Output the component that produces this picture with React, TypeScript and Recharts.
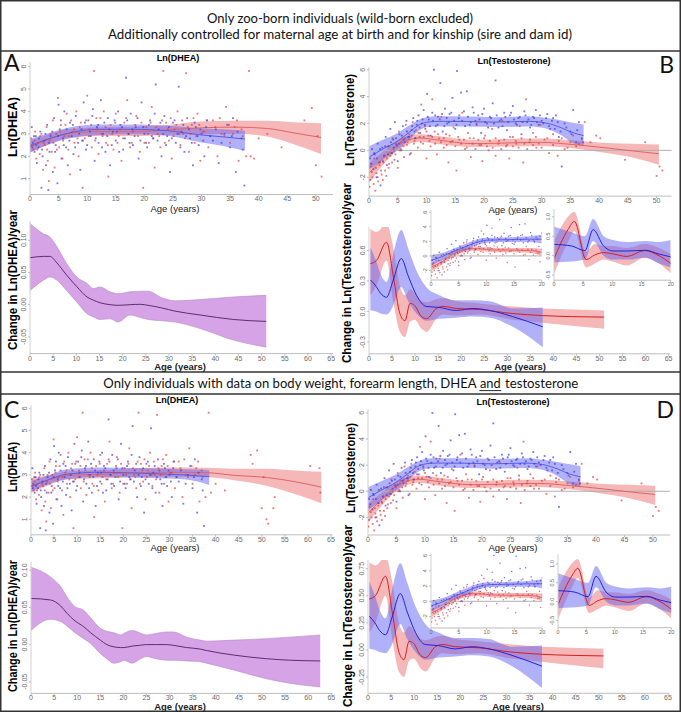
import React from 'react'
import { Area, ComposedChart, Line, ReferenceLine, Scatter, XAxis, YAxis } from 'recharts'

type Pt = [number, number]
// age, lower, fitted, upper
type BandPt = [number, number, number, number]

const AGE_TICKS_50 = [0, 5, 10, 15, 20, 25, 30, 35, 40, 45, 50]
const AGE_TICKS_65 = [0, 5, 10, 15, 20, 25, 30, 35, 40, 45, 50, 55, 60, 65]
const AGE_TICKS_20 = [0, 5, 10, 15, 20]
const DHEA_TICKS = [1, 2, 3, 4, 5, 6]
const TESTO_TICKS = [-2, 0, 2, 4, 6]
const SLOPE_DHEA_TICKS = [-0.05, 0, 0.05, 0.1]
const SLOPE_TESTO_B_TICKS = [-0.3, 0, 0.3, 0.6]
const SLOPE_TESTO_D_TICKS = [-0.25, 0, 0.25, 0.5, 0.75]
const INSET_SLOPE_TICKS = [-0.5, 0, 0.5, 1]

// raw measurements (age, ln value)
const dheaMales: Pt[] = [
  [0.3, 3.3], [0.5, 2.6], [0.8, 2.2], [1, 2.9], [1.2, 1.7], [1.5, 2.4], [1.8, 3.1], [2, 0.6], [2.2, 2.0], [2.5, 2.7],
  [2.8, 1.6], [3, 3.4], [3.2, 0.5], [3.4, 2.2], [3.6, 2.9], [4, 1.3], [4.2, 3.7], [4.5, 2.5], [4.8, 0.8], [5, 4.3],
  [5.2, 3.2], [5.5, 1.9], [5.8, 2.8], [6, 4.0], [6.3, 2.4], [6.6, 1.6], [7, 3.5], [7.3, 2.9], [7.6, 2.1], [8, 3.8],
  [8.4, 2.6], [8.8, 1.4], [9, 3.2], [9.4, 4.4], [9.8, 2.3], [10.2, 3.6], [10.6, 2.9], [11, 4.1], [11.3, 1.8], [11.7, 3.3],
  [12, 2.6], [12.4, 4.5], [12.8, 3.0], [13.2, 2.2], [13.6, 3.7], [14, 1.6], [14.5, 3.1], [15, 2.7], [15.4, 4.0], [15.8, 3.4],
  [16.3, 2.3], [16.8, 5.5], [17.2, 3.0], [17.6, 3.9], [18, 2.5], [18.5, 3.3], [19, 1.9], [19.5, 4.4], [20, 3.0], [20.5, 2.4],
  [21, 3.6], [21.5, 2.8], [22, 5.2], [22.5, 3.2], [23, 2.0], [23.5, 3.8], [24, 2.9], [24.5, 1.3], [25, 3.5], [25.5, 2.6],
  [26, 5.1], [26.5, 3.1], [27, 2.2], [27.5, 3.7], [28, 2.8], [28.5, 1.6], [29, 3.3], [29.5, 2.5], [30, 3.0], [30.5, 2.0],
  [31, 3.6], [32, 2.7], [33, 1.7], [34, 3.0], [35, 2.4], [35.5, 3.7], [36, 1.3], [37, 2.8], [37.5, 0.7],
]
const dheaMalesCore: Pt[] = [
  [0.4, 2.4], [0.7, 2.9], [1.1, 2.5], [1.6, 2.8], [2.1, 2.3], [2.7, 3.0], [3.3, 2.6], [3.9, 3.1], [4.4, 2.2], [4.9, 2.9],
  [5.4, 3.6], [5.9, 2.5], [6.4, 3.2], [6.9, 2.7], [7.5, 3.4], [7.9, 2.4], [8.6, 3.0], [9.1, 2.7], [9.6, 3.5], [10, 2.5],
  [10.5, 3.1], [10.9, 3.8], [11.5, 2.8], [11.9, 3.4], [12.6, 2.4], [13, 3.5], [13.5, 2.9], [13.9, 3.2], [14.3, 2.5], [14.8, 3.6],
  [15.2, 3.1], [15.6, 2.2], [16.1, 3.3], [16.6, 2.8], [17, 3.6], [17.4, 2.6], [17.9, 3.2], [18.3, 2.9], [18.8, 3.7], [19.3, 2.7],
  [19.8, 3.3], [20.3, 2.6], [20.8, 3.4], [21.3, 2.9], [21.8, 3.9], [22.3, 2.7], [22.8, 3.5], [23.3, 3.0], [23.8, 2.5], [24.3, 3.3],
  [24.8, 2.8], [25.3, 3.6], [25.8, 3.0], [26.3, 2.4], [26.8, 3.4], [27.3, 2.9], [27.8, 3.2], [28.3, 2.6], [28.8, 3.5], [29.3, 2.9],
  [29.8, 3.2], [30.3, 2.7], [30.8, 3.3], [31.5, 2.9], [32.5, 3.2], [33.5, 2.6], [34.5, 3.4], [35.3, 2.9], [36.3, 3.1], [37.2, 2.3],
]
const dheaFemales: Pt[] = [
  [0.2, 2.8], [0.6, 2.3], [0.9, 3.1], [1.1, 1.9], [1.4, 2.6], [1.7, 2.1], [2, 3.0], [2.3, 1.4], [2.6, 2.5], [2.9, 3.3],
  [3.1, 1.8], [3.3, 0.9], [3.5, 2.7], [3.8, 2.2], [4, 3.6], [4.3, 1.5], [4.6, 3.0], [4.9, 4.6], [5.1, 2.4], [5.4, 3.4],
  [5.7, 1.9], [6, 2.9], [6.4, 3.9], [6.7, 2.3], [7, 1.2], [7.4, 3.1], [7.8, 2.6], [8.1, 4.0], [8.5, 2.0], [8.9, 3.5],
  [9.2, 0.6], [9.6, 2.8], [10, 4.7], [10.4, 3.2], [10.8, 2.4], [11.2, 5.8], [11.6, 3.7], [12, 2.1], [12.5, 3.0], [12.9, 4.0],
  [13.3, 2.6], [13.7, 1.1], [14.1, 3.4], [14.6, 2.3], [15, 3.9], [15.5, 2.9], [16, 1.8], [16.5, 3.5], [17, 4.5], [17.5, 2.4],
  [18, 3.1], [18.6, 3.8], [19.2, 2.2], [19.8, 0.6], [20.3, 3.3], [20.8, 2.6], [21.3, 4.2], [21.8, 1.5], [22.3, 3.0], [22.8, 2.4],
  [23.3, 5.8], [23.8, 3.5], [24.3, 2.7], [24.8, 1.9], [25.3, 3.2], [25.8, 4.0], [26.3, 2.5], [26.8, 3.0], [27.3, 5.7], [27.8, 2.2],
  [28.3, 3.4], [28.8, 2.6], [29.3, 3.9], [29.8, 1.8], [30.5, 3.1], [31.2, 2.4], [32, 3.6], [32.8, 2.0], [33.5, 3.0], [34.3, 4.2],
  [35, 2.6], [35.8, 3.3], [36.5, 1.8], [37.2, 2.9], [37.8, 2.0],
]
const dheaFemalesCore: Pt[] = [
  [0.3, 2.5], [0.8, 2.7], [1.3, 2.3], [1.8, 2.9], [2.4, 2.6], [3, 2.3], [3.6, 3.0], [4.1, 2.6], [4.7, 2.3], [5.3, 3.1],
  [5.8, 2.7], [6.2, 3.4], [6.8, 2.9], [7.2, 3.6], [7.7, 3.2], [8.3, 2.8], [8.7, 3.3], [9.3, 2.7], [9.8, 3.6], [10.3, 2.9],
  [10.7, 3.4], [11.4, 2.7], [11.8, 3.2], [12.3, 3.7], [12.7, 2.9], [13.2, 3.3], [13.6, 2.5], [14.4, 3.0], [14.9, 3.5], [15.3, 2.6],
  [15.8, 3.2], [16.3, 2.8], [16.8, 3.7], [17.3, 3.0], [17.8, 2.6], [18.4, 3.4], [18.9, 2.9], [19.5, 3.5], [20, 2.6], [20.6, 3.0],
  [21.1, 3.5], [21.6, 2.8], [22.1, 3.3], [22.6, 2.9], [23.1, 3.6], [23.6, 2.6], [24.1, 3.2], [24.6, 3.7], [25.1, 2.9], [25.6, 3.4],
  [26.1, 3.0], [26.6, 3.6], [27.1, 2.8], [27.6, 3.3], [28.1, 3.0], [28.6, 3.7], [29.1, 2.9], [29.6, 3.4], [30.2, 3.1], [30.9, 3.6],
  [31.6, 2.9], [32.4, 3.3], [33.2, 3.7], [34, 2.9], [34.8, 3.4], [35.5, 3.0], [36.2, 3.6], [37, 3.2],
]
const dheaFemalesOldA: Pt[] = [
  [38.3, 5.8], [38.6, 2.0], [39.2, 1.9], [40, 2.8], [41.5, 3.0], [44, 2.4], [48, 3.6], [49.3, 4.15], [50, 1.6], [50.3, 2.9], [51, 1.1],
]
const dheaFemalesOldC: Pt[] = [
  [38.5, 5.8], [39, 2.2], [40, 2.6], [42, 2.3], [47.6, 3.9], [48, 3.5], [49, 4.1], [50, 1.5], [50.4, 2.9], [51, 1.0],
  [51.4, 0.8], [52.5, 1.5], [52.8, 2.0], [60.5, 3.4], [62.5, 3.3], [62.7, 2.2],
]
const testoMales: Pt[] = [
  [0.2, -0.6], [0.5, 0.1], [0.8, -1.4], [1, -0.3], [1.3, -2.0], [1.5, 0.5], [1.8, -0.9], [2, -2.6], [2.3, 0.2], [2.6, -0.4],
  [2.9, 1.0], [3.1, -1.1], [3.4, 0.3], [3.7, 1.6], [4, -0.2], [4.2, 0.8], [4.5, 2.1], [4.8, 0.4], [5, -0.8], [5.3, 1.2],
  [5.6, 0.0], [5.9, 1.8], [6.2, 0.6], [6.5, 2.2], [6.8, 1.0], [7.1, -0.3], [7.4, 1.5], [7.7, 2.4], [8, 0.9], [8.3, 1.9],
  [8.6, 2.6], [8.9, 1.3], [9.2, 2.0], [9.5, 3.0], [9.8, 1.6], [10.1, 4.2], [10.4, 2.3], [10.7, 1.1], [11, 2.8], [11.3, 6.0],
  [11.6, 1.8], [12, 2.5], [12.4, 5.0], [12.8, 1.4], [13.2, 3.1], [13.6, 2.0], [14, 2.7], [14.5, 3.9], [15, 1.6], [15.3, 5.9],
  [15.6, 2.4], [16, 4.3], [16.5, 2.9], [17, 4.4], [17.5, 1.9], [18, 3.2], [18.5, 2.2], [19, 2.6], [19.5, 1.3], [20, 3.1],
  [20.5, 2.0], [21, 2.5], [21.5, 3.5], [22, 5.2], [22.5, 1.7], [23, 2.3], [23.5, 2.8], [24, 1.5], [24.5, 2.6], [25, 3.3],
  [25.5, 2.0], [26, 2.4], [26.5, 1.2], [27, 2.9], [27.5, 2.1], [28, 1.7], [28.5, 2.5], [29, 3.0], [29.5, 1.9], [30, 2.2],
  [31, 2.7], [31.5, 1.6], [32, 2.4], [32.5, 2.6], [33, 1.0], [33.5, -1.2], [34, 2.0], [35, 1.4], [35.5, 3.0], [36, 0.6],
  [36.5, 2.1], [37, 0.9],
]
const testoMalesCore: Pt[] = [
  [0.4, -1.0], [0.9, -0.2], [1.4, -0.6], [1.9, 0.1], [2.4, -0.8], [2.8, 0.3], [3.3, -0.3], [3.8, 0.6], [4.3, 0.2], [4.7, 0.9],
  [5.2, 0.5], [5.7, 1.1], [6.1, 0.8], [6.6, 1.4], [7, 1.0], [7.5, 1.8], [7.9, 1.4], [8.4, 2.2], [8.8, 1.7], [9.3, 2.3],
  [9.7, 1.9], [10.2, 2.5], [10.6, 1.8], [11.1, 2.2], [11.5, 2.6], [11.9, 1.9], [12.3, 2.3], [12.7, 2.7], [13.1, 1.8], [13.5, 2.4],
  [13.9, 2.1], [14.3, 2.8], [14.8, 2.2], [15.2, 1.9], [15.7, 2.6], [16.2, 2.2], [16.7, 1.8], [17.2, 2.5], [17.7, 2.1], [18.2, 2.8],
  [18.7, 1.9], [19.2, 2.3], [19.7, 2.7], [20.2, 2.1], [20.7, 1.7], [21.2, 2.4], [21.7, 2.0], [22.2, 2.6], [22.7, 2.2], [23.2, 1.8],
  [23.7, 2.5], [24.2, 2.1], [24.7, 2.8], [25.2, 2.3], [25.7, 1.9], [26.2, 2.5], [26.7, 2.1], [27.2, 2.6], [27.7, 2.3], [28.2, 1.9],
  [28.7, 2.4], [29.2, 2.1], [29.7, 2.6], [30.3, 2.0], [30.8, 2.4], [31.3, 1.8], [31.8, 2.2], [32.3, 1.6], [32.8, 2.1], [33.3, 1.4],
  [34.3, 1.7], [35.2, 1.2], [36.2, 1.5], [37.2, 0.6],
]
const testoFemales: Pt[] = [
  [0.1, -2.7], [0.3, -1.2], [0.6, -2.0], [0.9, -0.6], [1.1, -3.0], [1.3, -1.7], [1.6, -2.3], [1.9, -0.9], [2.1, -1.5], [2.4, -2.2],
  [2.7, -0.4], [3, -1.9], [3.2, 0.3], [3.5, -1.0], [3.8, -0.2], [4.1, 0.9], [4.4, -0.7], [4.7, 0.5], [5, -1.3], [5.2, 1.4],
  [5.5, 0.1], [5.8, 0.8], [6.1, -0.5], [6.4, 1.9], [6.7, 0.6], [7, 1.2], [7.3, -0.2], [7.6, 2.1], [7.9, 0.7], [8.2, 1.5],
  [8.5, 0.2], [8.8, 1.0], [9.1, 3.4], [9.4, 0.5], [9.7, 1.8], [10, -0.6], [10.3, 1.1], [10.7, 0.3], [11, 3.8], [11.4, 1.4],
  [11.8, -0.3], [12.2, 0.9], [12.6, 2.5], [13, 0.2], [13.4, 1.2], [13.8, -0.9], [14.2, 0.6], [14.7, 1.7], [15.2, -1.5], [15.7, 0.8],
  [16.2, 2.8], [16.7, 0.1], [17.2, 1.3], [17.7, -0.5], [18.2, 0.9], [18.7, 2.0], [19.2, 0.4], [19.7, -0.8], [20.2, 1.1], [20.8, 0.0],
  [21.4, 1.6], [22, -0.4], [22.6, 0.7], [23.2, 2.2], [23.8, 0.3], [24.4, -0.6], [25, 1.0], [25.6, 0.5], [26.2, 1.8], [26.8, -0.9],
  [27.3, 3.8], [27.9, 0.6], [28.5, 1.3], [29.1, 0.2], [29.8, 1.9], [30.5, 0.8], [31.3, -0.2], [32, 1.2], [32.8, -0.4], [33.5, 0.9],
  [34.5, 0.2], [35.5, 1.1], [36.5, 0.5], [37.5, 2.1], [38.5, 0.6], [39.5, 1.1], [40.2, 0.9], [44.5, -0.7], [48, 0.6], [50, -1.9],
  [50.5, -1.2], [51, -1.5],
]
const testoFemalesCore: Pt[] = [
  [0.2, -2.2], [0.5, -1.6], [0.8, -2.5], [1.2, -1.3], [1.5, -2.0], [1.8, -1.1], [2.2, -1.8], [2.5, -0.9], [2.8, -1.5], [3.1, -0.6],
  [3.4, -1.3], [3.7, -0.4], [4, -0.9], [4.3, 0.0], [4.6, -0.3], [4.9, 0.3], [5.3, 0.0], [5.6, 0.6], [6, 0.3], [6.3, 0.9],
  [6.6, 0.4], [7, 0.8], [7.4, 1.1], [7.8, 0.5], [8.1, 0.9], [8.6, 1.3], [9, 0.6], [9.5, 1.0], [10, 1.4], [10.5, 0.7],
  [11, 1.0], [11.5, 0.5], [12, 1.2], [12.5, 0.6], [13, 0.9], [13.5, 0.4], [14, 1.1], [14.5, 0.7], [15, 0.3], [15.5, 1.0],
  [16, 0.5], [16.5, 0.8], [17, 0.2], [17.5, 0.9], [18, 0.5], [18.5, 0.1], [19, 0.8], [19.5, 0.4], [20, 0.9], [20.5, 0.3],
  [21, 0.7], [21.5, 0.2], [22, 0.9], [22.5, 0.5], [23, 0.1], [23.5, 0.8], [24, 0.4], [24.5, 1.0], [25, 0.3], [25.5, 0.7],
  [26, 0.2], [26.5, 0.9], [27, 0.5], [27.5, 0.1], [28, 0.8], [28.5, 0.4], [29, 1.0], [29.5, 0.5], [30, 0.2], [31, 0.9],
  [32, 0.4], [33, 0.7], [34, 0.1], [35, 0.6], [36, 0.3], [37, 0.8],
]

// fitted curves with confidence bands
const dheaFitMalesA: BandPt[] = [
  [0, 2.17, 2.47, 2.77], [3.5, 2.55, 2.8, 3.05], [7, 2.8, 3.05, 3.3], [12, 2.95, 3.2, 3.42], [18, 2.98, 3.2, 3.42],
  [24, 2.92, 3.14, 3.36], [30, 2.62, 2.95, 3.24], [34, 2.45, 2.86, 3.2], [37.6, 2.25, 2.77, 3.14],
]
const dheaFitFemalesA: BandPt[] = [
  [0, 2.17, 2.42, 2.7], [3, 2.5, 2.72, 2.95], [6.4, 2.8, 3.0, 3.2], [12, 2.9, 3.1, 3.3], [18, 2.9, 3.1, 3.32],
  [24, 2.95, 3.17, 3.4], [30, 2.98, 3.27, 3.55], [36, 3.0, 3.3, 3.58], [41.5, 2.88, 3.24, 3.58], [46, 2.55, 3.05, 3.52],
  [50.9, 2.1, 2.84, 3.47],
]
const dheaFitMalesC: BandPt[] = [
  [0, 2.24, 2.47, 2.73], [4, 2.6, 2.8, 3.0], [7.8, 2.8, 3.03, 3.25], [15, 2.9, 3.12, 3.33], [25.8, 2.86, 3.06, 3.3],
  [33, 2.8, 3.0, 3.25], [38.6, 2.55, 2.92, 3.22],
]
const dheaFitFemalesC: BandPt[] = [
  [0, 2.2, 2.5, 2.85], [4, 2.55, 2.78, 3.0], [7.8, 2.8, 2.97, 3.15], [15, 2.85, 3.03, 3.22], [29.5, 2.92, 3.12, 3.33],
  [38, 2.9, 3.1, 3.32], [44, 2.76, 2.98, 3.28], [51.2, 2.5, 2.88, 3.28], [57, 2.15, 2.7, 3.2], [62.9, 1.72, 2.45, 3.14],
]
const testoFitMales: BandPt[] = [
  [0, -1.44, -0.5, 0.3], [2.2, -0.75, 0.05, 0.75], [5, 0.05, 0.7, 1.3], [7, 0.8, 1.35, 1.85], [8.8, 1.5, 1.92, 2.3],
  [10.5, 1.75, 2.12, 2.5], [12.3, 1.78, 2.16, 2.53], [17, 1.78, 2.15, 2.52], [21.9, 1.73, 2.1, 2.47], [27.7, 1.78, 2.16, 2.53],
  [30.6, 1.65, 2.05, 2.42], [33.5, 1.1, 1.67, 2.23], [35.2, 0.6, 1.35, 2.08], [37.3, 0.3, 1.1, 1.92],
]
const testoFitFemales: BandPt[] = [
  [0, -2.43, -1.69, -0.94], [2.2, -1.2, -0.7, -0.2], [5.1, 0.05, 0.43, 0.8], [7, 0.5, 0.8, 1.1], [8.8, 0.65, 0.92, 1.2],
  [12.3, 0.45, 0.75, 1.05], [18.1, 0.25, 0.5, 0.78], [23.9, 0.28, 0.55, 0.85], [29.7, 0.33, 0.6, 0.88], [35.5, 0.15, 0.43, 0.75],
  [41.3, -0.2, 0.18, 0.55], [46, -0.55, -0.05, 0.5], [50.4, -1.06, -0.25, 0.43],
]
const testoFitMalesYoung: BandPt[] = [
  [0, -1.3, -0.6, 0.1], [2, -0.6, -0.1, 0.4], [4, 0.2, 0.6, 1.0], [6, 0.8, 1.2, 1.6], [8, 1.4, 1.8, 2.2],
  [10, 1.8, 2.15, 2.5], [12, 1.9, 2.2, 2.5], [15, 1.9, 2.25, 2.6], [18, 1.9, 2.3, 2.7], [20, 1.7, 2.3, 2.9],
]
const testoFitFemalesYoung: BandPt[] = [
  [0, -2.1, -1.55, -1.0], [2, -1.2, -0.8, -0.4], [4, -0.1, 0.25, 0.6], [6, 0.5, 0.85, 1.2], [8, 0.7, 1.0, 1.3],
  [10, 0.6, 0.9, 1.2], [12, 0.5, 0.8, 1.1], [15, 0.5, 0.8, 1.1], [18, 0.4, 0.75, 1.1], [20, 0.0, 0.5, 1.0],
]

// yearly change (first derivative) with bands
const dheaSlopeA: BandPt[] = [
  [0, 0.022, 0.073, 0.126], [2.9, 0.038, 0.075, 0.11], [4.3, 0.043, 0.075, 0.105], [5.8, 0.038, 0.065, 0.09],
  [7.9, 0.022, 0.046, 0.064], [10.1, 0.004, 0.028, 0.043], [12.3, -0.014, 0.012, 0.033], [13.7, -0.019, 0.007, 0.025],
  [15.1, -0.023, 0.003, 0.0275], [17.3, -0.022, 0.0, 0.02], [19, -0.027, -0.001, 0.017], [21.6, -0.016, 0.0, 0.02],
  [23.8, -0.02, 0.0006, 0.021], [25.5, -0.023, -0.001, 0.021], [28.4, -0.025, -0.005, 0.011], [31.3, -0.027, -0.01, 0.006],
  [36.7, -0.037, -0.016, 0.008], [43.9, -0.055, -0.023, 0.012], [51, -0.066, -0.026, 0.0145],
]
const dheaSlopeC: BandPt[] = [
  [0, 0.019, 0.062, 0.104], [4.2, 0.034, 0.06, 0.091], [6.4, 0.031, 0.052, 0.078], [7.8, 0.025, 0.042, 0.064],
  [9.3, 0.017, 0.033, 0.052], [11.4, 0.008, 0.024, 0.046], [12.9, 0.0015, 0.016, 0.036], [15, -0.012, 0.006, 0.022],
  [16.4, -0.019, 0.0, 0.018], [17.9, -0.025, -0.003, 0.016], [19.4, -0.023, -0.004, 0.013], [20.1, -0.021, -0.004, 0.015],
  [21.9, -0.025, -0.002, 0.019], [23.5, -0.02, -0.001, 0.016], [25, -0.016, 0.0, 0.013], [27, -0.019, 0.0, 0.015],
  [29.4, -0.021, 0.0, 0.017], [30.8, -0.021, -0.001, 0.017], [33.7, -0.022, -0.004, 0.01], [36.6, -0.023, -0.006, 0.006],
  [38, -0.025, -0.008, 0.0046], [43.8, -0.034, -0.014, 0.006], [51, -0.046, -0.019, 0.008], [56, -0.052, -0.021, 0.01],
  [62.6, -0.057, -0.022, 0.013],
]
const testoSlopeMales: BandPt[] = [
  [0.3, 0.01, 0.31, 0.63], [1.5, 0.0, 0.25, 0.5], [2.5, -0.02, 0.18, 0.37], [3.8, -0.03, 0.14, 0.29], [5.2, 0.05, 0.3, 0.55],
  [7, 0.24, 0.52, 0.8], [8.5, 0.1, 0.35, 0.62], [10.3, -0.02, 0.16, 0.4], [12.4, -0.09, 0.05, 0.24], [15.3, -0.07, 0.04, 0.16],
  [18.9, -0.06, 0.01, 0.11], [22.6, -0.05, 0.03, 0.11], [26.2, -0.06, 0.01, 0.1], [31.2, -0.15, -0.05, 0.03],
  [37.7, -0.35, -0.15, 0.04],
]
const testoSlopeFemales: BandPt[] = [
  [0.3, 0.16, 0.47, 0.81], [1.6, 0.25, 0.5, 0.78], [3.8, 0.5, 0.68, 0.86], [5.3, 0.09, 0.34, 0.62], [6.7, -0.2, -0.02, 0.25],
  [7.8, -0.25, -0.09, 0.16], [8.9, -0.1, 0.08, 0.22], [9.9, -0.08, 0.06, 0.18], [11.4, -0.17, -0.05, 0.1],
  [12.5, -0.2, -0.07, 0.09], [14.6, -0.07, 0.03, 0.12], [16.1, -0.03, 0.05, 0.13], [18.9, -0.04, 0.03, 0.1],
  [24, -0.03, 0.02, 0.08], [31.2, -0.08, -0.02, 0.05], [37.7, -0.11, -0.04, 0.03], [44, -0.14, -0.05, 0.02],
  [51, -0.17, -0.055, 0.01],
]
const testoSlopeMalesYoung: BandPt[] = [
  [0, -0.17, 0.29, 0.75], [3, -0.15, 0.25, 0.6], [5.3, -0.1, 0.13, 0.5], [6.7, 0.38, 0.67, 0.94], [8.5, 0.0, 0.25, 0.5],
  [10.1, -0.1, 0.12, 0.4], [12.5, -0.1, 0.12, 0.35], [15.7, -0.05, 0.14, 0.38], [18, -0.2, 0.04, 0.35], [20, -0.3, -0.03, 0.4],
]
const testoSlopeFemalesYoung: BandPt[] = [
  [0, -0.47, -0.08, 0.37], [2.4, 0.35, 0.67, 1.0], [3.5, 0.63, 0.88, 1.13], [5.5, -0.3, -0.1, 0.1], [7, -0.2, 0.02, 0.3],
  [8.5, -0.1, 0.08, 0.25], [10, -0.15, 0.05, 0.25], [12.5, -0.25, -0.02, 0.2], [15.5, -0.05, 0.13, 0.3], [18, -0.2, 0.0, 0.2],
  [20, -0.45, -0.2, 0.05],
]

const RED = '#e43a3a'
const BLUE = '#3a3ae4'
const TICK_FONT = 'Liberation Sans, Arial, sans-serif'

interface Band {
  rows: BandPt[]
  fill: string
  line: string
  opacity: number
  edge?: string
}
interface Dots {
  rows: Pt[]
  color: string
}
interface PlotProps {
  left: number
  top: number
  width: number
  height: number
  xDomain: [number, number]
  xTicks: number[]
  yDomain: [number, number]
  yTicks: number[]
  yFmt?: (v: number) => string
  dots?: Dots[]
  bands: Band[]
  zero?: boolean
  font?: number
  dot?: number
}

const PAD = { l: 22, t: 4, r: 6, b: 12 }

function Plot(p: PlotProps) {
  const font = p.font ?? 7
  const fmt = p.yFmt ?? ((v: number) => String(v))
  const dot = p.dot ?? 1.8
  return (
    <div style={{ position: 'absolute', left: p.left - PAD.l, top: p.top - PAD.t }}>
      <ComposedChart
        width={p.width + PAD.l + PAD.r}
        height={p.height + PAD.t + PAD.b}
        margin={{ top: PAD.t, right: PAD.r, bottom: 0, left: 0 }}
      >
        <XAxis
          type="number"
          dataKey="age"
          domain={p.xDomain}
          ticks={p.xTicks}
          interval={0}
          allowDataOverflow
          height={PAD.b}
          tickSize={2}
          tickMargin={0}
          axisLine={{ stroke: '#bdbdbd' }}
          tickLine={{ stroke: '#bdbdbd' }}
          tick={{ fontSize: font, fill: '#6a6a6a', fontFamily: TICK_FONT }}
        />
        <YAxis
          type="number"
          domain={p.yDomain}
          ticks={p.yTicks}
          interval={0}
          allowDataOverflow
          width={PAD.l}
          tickSize={2}
          tickMargin={2}
          axisLine={{ stroke: '#d0d0d0' }}
          tickLine={{ stroke: '#bdbdbd' }}
          tick={(t: any) => (
            <text
              x={t.x}
              y={t.y}
              transform={`rotate(-90 ${t.x} ${t.y})`}
              textAnchor="middle"
              fontSize={font}
              fill="#6a6a6a"
              fontFamily={TICK_FONT}
            >
              {fmt(t.payload.value)}
            </text>
          )}
        />
        {p.zero && <ReferenceLine y={0} stroke="#b0b0b0" strokeWidth={1} />}
        {(p.dots ?? []).map((d, i) => (
          <Scatter
            key={`s${i}`}
            data={d.rows.map(([age, v]) => ({ age, v }))}
            dataKey="v"
            isAnimationActive={false}
            shape={(s: any) => (
              <rect
                x={s.cx - dot / 2}
                y={s.cy - dot / 2}
                width={dot}
                height={dot}
                fill={d.color}
                fillOpacity={0.7}
              />
            )}
          />
        ))}
        {p.bands.map((b, i) => (
          <Area
            key={`a${i}`}
            data={b.rows.map(([age, lo, , hi]) => ({ age, range: [lo, hi] }))}
            dataKey="range"
            type="monotone"
            fill={b.fill}
            fillOpacity={b.opacity}
            stroke={b.edge ?? 'none'}
            strokeWidth={0.6}
            isAnimationActive={false}
          />
        ))}
        {p.bands.map((b, i) => (
          <Line
            key={`l${i}`}
            data={b.rows.map(([age, , mean]) => ({ age, mean }))}
            dataKey="mean"
            type="monotone"
            stroke={b.line}
            strokeWidth={1}
            dot={false}
            isAnimationActive={false}
          />
        ))}
      </ComposedChart>
    </div>
  )
}

const redBand = (rows: BandPt[], line = '#e06464'): Band => ({ rows, fill: '#ec6f6f', line, opacity: 0.5 })
const blueBand = (rows: BandPt[], line = '#5c5ce6'): Band => ({ rows, fill: '#6464f4', line, opacity: 0.5 })
const purpleBand = (rows: BandPt[]): Band => ({ rows, fill: '#d6a3e6', line: '#5e2c70', opacity: 1, edge: '#b58ac4' })

const young = (rows: Pt[]) => rows.filter(([age]) => age <= 20)

function VLabel({ x, y, len, text, size = 13 }: { x: number; y: number; len: number; text: string; size?: number }) {
  return (
    <text
      transform={`translate(${x} ${y}) rotate(-90)`}
      textAnchor="middle"
      dominantBaseline="central"
      fontSize={size}
      fontWeight="bold"
      fontFamily="Liberation Sans, Arial, sans-serif"
      textLength={len}
      lengthAdjust="spacingAndGlyphs"
    >
      {text}
    </text>
  )
}

function Overlay() {
  const head = { fontFamily: 'Lato, Open Sans, sans-serif', fontSize: 14, fill: '#111', textAnchor: 'middle' as const }
  const letter = { fontFamily: 'Lato, Open Sans, sans-serif', fontSize: 23, fill: '#111' }
  const title = { fontFamily: 'Liberation Sans, Arial, sans-serif', fontSize: 9, fontWeight: 'bold', textAnchor: 'middle' as const }
  const age = { fontFamily: 'Liberation Sans, Arial, sans-serif', fontSize: 9.5, textAnchor: 'middle' as const, fill: '#222' }
  const part = {
    fontFamily: 'Lato, Open Sans, sans-serif',
    fontSize: 13,
    fill: '#111',
    textAnchor: 'start' as const,
    lengthAdjust: 'spacingAndGlyphs' as const,
  }
  return (
    <svg width={681} height={712} style={{ position: 'absolute', left: 0, top: 0, pointerEvents: 'none' }}>
      <rect x={0.75} y={0.75} width={679.5} height={710.5} fill="none" stroke="#333" strokeWidth={1.5} />
      <line x1={0} x2={681} y1={51} y2={51} stroke="#333" strokeWidth={1.3} />
      <line x1={0} x2={681} y1={372} y2={372} stroke="#333" strokeWidth={1.3} />
      <line x1={0} x2={681} y1={394} y2={394} stroke="#333" strokeWidth={1.3} />

      <text {...head} x={340} y={22.5} textLength={266} lengthAdjust="spacingAndGlyphs">
        Only zoo-born individuals (wild-born excluded)
      </text>
      <text {...head} x={340} y={39} textLength={464} lengthAdjust="spacingAndGlyphs">
        Additionally controlled for maternal age at birth and for kinship (sire and dam id)
      </text>
      <text {...part} x={103.3} y={388} textLength={373.4}>
        Only individuals with data on body weight, forearm length, DHEA
      </text>
      <text {...part} x={480} y={388} textLength={20.7}>and</text>
      <line x1={479.3} x2={501.3} y1={390.6} y2={390.6} stroke="#111" strokeWidth={0.9} />
      <text {...part} x={505} y={388} textLength={73.3}>testosterone</text>

      <text {...letter} x={4} y={71}>A</text>
      <text {...letter} x={674} y={73} textAnchor="end">B</text>
      <text {...letter} x={4} y={418}>C</text>
      <text {...letter} x={674} y={418} textAnchor="end">D</text>

      <text {...title} x={178} y={61}>Ln(DHEA)</text>
      <text {...title} x={514} y={64}>Ln(Testosterone)</text>
      <text {...title} x={177} y={403}>Ln(DHEA)</text>
      <text {...title} x={513} y={405}>Ln(Testosterone)</text>

      <VLabel x={12} y={127} len={60} text="Ln(DHEA)" />
      <VLabel x={12} y={280} len={140} text="Change in Ln(DHEA)/year" />
      <VLabel x={349} y={120} len={92} text="Ln(Testosterone)" />
      <VLabel x={346} y={273} len={180} text="Change in Ln(Testosterone)/year" />
      <VLabel x={12} y={467} len={50} text="Ln(DHEA)" />
      <VLabel x={12} y={626} len={132} text="Change in Ln(DHEA)/year" />
      <VLabel x={350} y={468} len={90} text="Ln(Testosterone)" />
      <VLabel x={347} y={616} len={182} text="Change in Ln(Testosterone)/year" />

      <text {...age} x={175} y={212}>Age (years)</text>
      <text {...age} x={513} y={213}>Age (years)</text>
      <text {...age} x={175} y={551}>Age (years)</text>
      <text {...age} x={513} y={551}>Age (years)</text>
      <text {...age} x={180} y={369.5} fontWeight="bold">Age (years)</text>
      <text {...age} x={520} y={369.5} fontWeight="bold">Age (years)</text>
      <text {...age} x={180} y={709.5} fontWeight="bold">Age (years)</text>
      <text {...age} x={518} y={709.5} fontWeight="bold">Age (years)</text>
    </svg>
  )
}

export default function App() {
  const f2 = (v: number) => v.toFixed(2)
  const f1 = (v: number) => v.toFixed(1)
  const dheaF = { rows: [...dheaFemales, ...dheaFemalesCore], color: RED }
  const dheaM = { rows: [...dheaMales, ...dheaMalesCore], color: BLUE }
  const testoF = [...testoFemales, ...testoFemalesCore]
  const testoM = [...testoMales, ...testoMalesCore]
  return (
    <div
      style={{
        position: 'absolute',
        left: 0,
        top: 0,
        width: 681,
        height: 712,
        overflow: 'hidden',
        background: '#fff',
      }}
    >
      {/* A */}
      <Plot
        left={30} top={61.5} width={303} height={132.5}
        xDomain={[0, 53]} xTicks={AGE_TICKS_50}
        yDomain={[0.3, 6.2]} yTicks={DHEA_TICKS}
        dots={[dheaF, { rows: dheaFemalesOldA, color: RED }, dheaM]}
        bands={[redBand(dheaFitFemalesA), blueBand(dheaFitMalesA)]}
      />
      <Plot
        left={30} top={220.7} width={303} height={132.6}
        xDomain={[0, 65.4]} xTicks={AGE_TICKS_65}
        yDomain={[-0.076, 0.13]} yTicks={SLOPE_DHEA_TICKS} yFmt={f2}
        bands={[purpleBand(dheaSlopeA)]}
      />
      {/* B */}
      <Plot
        left={369.3} top={67.3} width={302.6} height={129.1}
        xDomain={[0, 52.6]} xTicks={AGE_TICKS_50}
        yDomain={[-3.4, 6.2]} yTicks={TESTO_TICKS} zero
        dots={[{ rows: testoF, color: RED }, { rows: testoM, color: BLUE }]}
        bands={[redBand(testoFitFemales), blueBand(testoFitMales)]}
      />
      <Plot
        left={369.3} top={226.6} width={301} height={126.8}
        xDomain={[0, 65.3]} xTicks={AGE_TICKS_65}
        yDomain={[-0.415, 0.83]} yTicks={SLOPE_TESTO_B_TICKS} yFmt={f1}
        bands={[redBand(testoSlopeFemales, '#d81e1e'), blueBand(testoSlopeMales, '#2222dd')]}
      />
      <Plot
        left={431} top={209.5} width={110.7} height={70}
        xDomain={[0, 20]} xTicks={AGE_TICKS_20}
        yDomain={[-3.3, 6.3]} yTicks={TESTO_TICKS} zero font={5.5} dot={1.3}
        dots={[{ rows: young(testoF), color: RED }, { rows: young(testoM), color: BLUE }]}
        bands={[redBand(testoFitFemalesYoung), blueBand(testoFitMalesYoung)]}
      />
      <Plot
        left={554.3} top={208.9} width={116.7} height={71.2}
        xDomain={[0, 20]} xTicks={AGE_TICKS_20}
        yDomain={[-0.63, 1.2]} yTicks={INSET_SLOPE_TICKS} yFmt={f1} font={5.5}
        bands={[redBand(testoSlopeFemalesYoung, '#d81e1e'), blueBand(testoSlopeMalesYoung, '#2222dd')]}
      />
      {/* C */}
      <Plot
        left={30.7} top={405} width={301.4} height={129.8}
        xDomain={[0, 65.3]} xTicks={AGE_TICKS_65}
        yDomain={[0.3, 6.15]} yTicks={DHEA_TICKS}
        dots={[dheaF, { rows: dheaFemalesOldC, color: RED }, dheaM]}
        bands={[redBand(dheaFitFemalesC), blueBand(dheaFitMalesC)]}
      />
      <Plot
        left={30.7} top={561.8} width={301.7} height={131.4}
        xDomain={[0, 65.3]} xTicks={AGE_TICKS_65}
        yDomain={[-0.0656, 0.111]} yTicks={SLOPE_DHEA_TICKS} yFmt={f2}
        bands={[purpleBand(dheaSlopeC)]}
      />
      {/* D */}
      <Plot
        left={368.3} top={408.5} width={302} height={126}
        xDomain={[0, 53]} xTicks={AGE_TICKS_50}
        yDomain={[-3.35, 6.3]} yTicks={TESTO_TICKS} zero
        dots={[{ rows: testoF, color: RED }, { rows: testoM, color: BLUE }]}
        bands={[redBand(testoFitFemales), blueBand(testoFitMales)]}
      />
      <Plot
        left={368.3} top={559.6} width={301.4} height={133.3}
        xDomain={[0, 65.3]} xTicks={AGE_TICKS_65}
        yDomain={[-0.4, 0.83]} yTicks={SLOPE_TESTO_D_TICKS} yFmt={f2}
        bands={[redBand(testoSlopeFemales, '#d81e1e'), blueBand(testoSlopeMales, '#2222dd')]}
      />
      <Plot
        left={431} top={553.5} width={111.3} height={74}
        xDomain={[0, 20]} xTicks={AGE_TICKS_20}
        yDomain={[-3.5, 6.2]} yTicks={TESTO_TICKS} zero font={5.5} dot={1.3}
        dots={[{ rows: young(testoF), color: RED }, { rows: young(testoM), color: BLUE }]}
        bands={[redBand(testoFitFemalesYoung), blueBand(testoFitMalesYoung)]}
      />
      <Plot
        left={558.3} top={553.5} width={113.4} height={73.7}
        xDomain={[0, 20]} xTicks={AGE_TICKS_20}
        yDomain={[-0.69, 1.26]} yTicks={INSET_SLOPE_TICKS} yFmt={f1} font={5.5}
        bands={[redBand(testoSlopeFemalesYoung, '#d81e1e'), blueBand(testoSlopeMalesYoung, '#2222dd')]}
      />
      <Overlay />
    </div>
  )
}
